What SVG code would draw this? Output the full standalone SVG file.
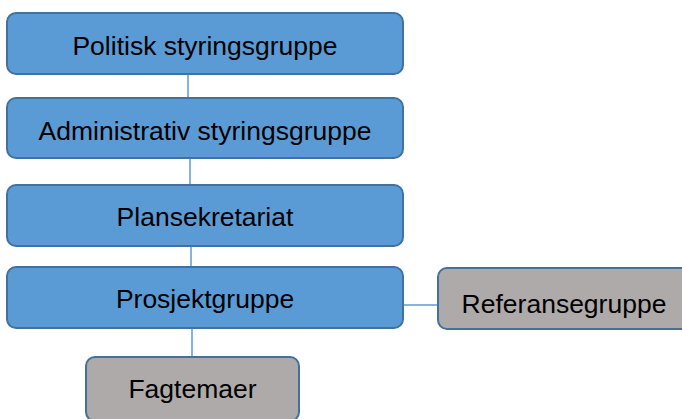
<svg xmlns="http://www.w3.org/2000/svg" width="682" height="419" viewBox="0 0 682 419">
  <style>
    .blue { fill: #5B9BD5; stroke: #41719C; stroke-width: 2; }
    .gray { fill: #AEAAAA; stroke: #41719C; stroke-width: 2; }
    .lbl { font-family: "Liberation Sans", Arial, sans-serif; font-size: 26.5px; fill: #000; text-anchor: middle; }
    .conn { stroke: #5B9BD5; stroke-width: 1.5; fill: none; }
  </style>
  <rect width="682" height="419" fill="#FFFFFF"/>
  <g id="connectors">
    <line class="conn" x1="188" y1="74" x2="188" y2="98"/>
    <line class="conn" x1="190" y1="158" x2="190" y2="185"/>
    <line class="conn" x1="191" y1="246" x2="191" y2="267"/>
    <line class="conn" x1="192" y1="328" x2="192" y2="357"/>
    <line class="conn" x1="403" y1="305" x2="438" y2="305"/>
  </g>
  <g id="politisk">
    <rect class="blue" x="7" y="13" width="396" height="61" rx="9"/>
    <text class="lbl" x="205" y="55">Politisk styringsgruppe</text>
  </g>
  <g id="administrativ">
    <rect class="blue" x="7" y="98" width="396" height="60" rx="9"/>
    <text class="lbl" x="205" y="140">Administrativ styringsgruppe</text>
  </g>
  <g id="plansekretariat">
    <rect class="blue" x="7" y="185" width="396" height="61" rx="9"/>
    <text class="lbl" x="205" y="226">Plansekretariat</text>
  </g>
  <g id="prosjektgruppe">
    <rect class="blue" x="7" y="267" width="396" height="61" rx="9"/>
    <text class="lbl" x="205" y="308">Prosjektgruppe</text>
  </g>
  <g id="referansegruppe">
    <rect class="gray" x="438" y="268" width="252" height="61" rx="9"/>
    <text class="lbl" x="564" y="313">Referansegruppe</text>
  </g>
  <g id="fagtemaer">
    <rect class="gray" x="86" y="357" width="213" height="64" rx="9"/>
    <text class="lbl" x="192.5" y="398">Fagtemaer</text>
  </g>
</svg>
